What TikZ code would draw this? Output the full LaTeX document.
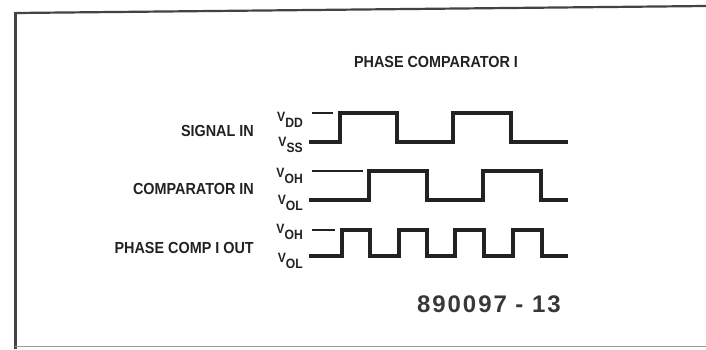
\documentclass[tikz,border=0pt]{standalone}
\usepackage{fontspec}
\setmainfont{Liberation Sans}
\newfontfamily\condf[FakeStretch=0.9]{Liberation Sans}
\newfontfamily\numf[LetterSpace=8]{Liberation Sans}
\definecolor{ink}{HTML}{222222}
\begin{document}
\begin{tikzpicture}[x=1pt,y=-1pt,
  wave/.style={draw=ink,line width=3.2pt,line join=miter,line cap=butt},
  tick/.style={draw=ink,line width=1.2pt},
  frameline/.style={draw=ink!85,line width=2.2pt},
  lbl/.style={inner sep=0pt,text=ink,font=\condf\bfseries\fontsize{16}{17}\selectfont,anchor=base east},
  vlbl/.style={inner sep=0pt,text=ink,font=\condf\bfseries\fontsize{13.5}{14}\selectfont,anchor=base east}]
\useasboundingbox (0,0) rectangle (706,349);
\fill[white] (0,0) rectangle (706,349);
% frame
\draw[frameline] (15,13) -- (706,6);
\draw[frameline] (15.5,12) -- (15.5,349);
\draw[draw=ink!45,line width=1.2pt] (15,346.5) -- (706,346.5);
% title
\node[lbl,anchor=base] (title) at (436,67) {PHASE COMPARATOR I};
% row labels
\node[lbl] (sig) at (254,136) {SIGNAL IN};
\node[lbl] (cmp) at (254,194) {COMPARATOR IN};
\node[lbl] (out) at (254,253) {PHASE COMP I OUT};
% level labels
\newcommand{\lvl}[1]{V\raisebox{-6.5pt}{#1}}
\node[vlbl] (vdd) at (303,121) {\lvl{DD}};
\node[vlbl] (vss) at (303,146) {\lvl{SS}};
\node[vlbl] (voh1) at (303,177) {\lvl{OH}};
\node[vlbl] (vol1) at (303,204) {\lvl{OL}};
\node[vlbl] (voh2) at (303,233) {\lvl{OH}};
\node[vlbl] (vol2) at (303,262) {\lvl{OL}};
% ticks
\draw[tick] (312,113) -- (333,113);
\draw[tick] (312,171) -- (363,171);
\draw[tick] (312,230) -- (335,230);
% waveforms
\draw[wave] (309,142) -- (340,142) -- (340,113) -- (397,113) -- (397,142) -- (453,142) -- (453,113) -- (511,113) -- (511,142) -- (568,142);
\draw[wave] (309,200) -- (369,200) -- (369,171) -- (427,171) -- (427,200) -- (483,200) -- (483,171) -- (541,171) -- (541,200) -- (568,200);
\draw[wave] (309,256) -- (342,256) -- (342,230) -- (370,230) -- (370,256) -- (399,256) -- (399,230) -- (427,230) -- (427,256) -- (455,256) -- (455,230) -- (484,230) -- (484,256) -- (513,256) -- (513,230) -- (542,230) -- (542,256) -- (568,256);
% figure number
\node[inner sep=0pt,anchor=base west,text=ink!90,font=\numf\bfseries\fontsize{24}{25}\selectfont] (fig) at (417,312) {890097 - 13};
\end{tikzpicture}
\end{document}
